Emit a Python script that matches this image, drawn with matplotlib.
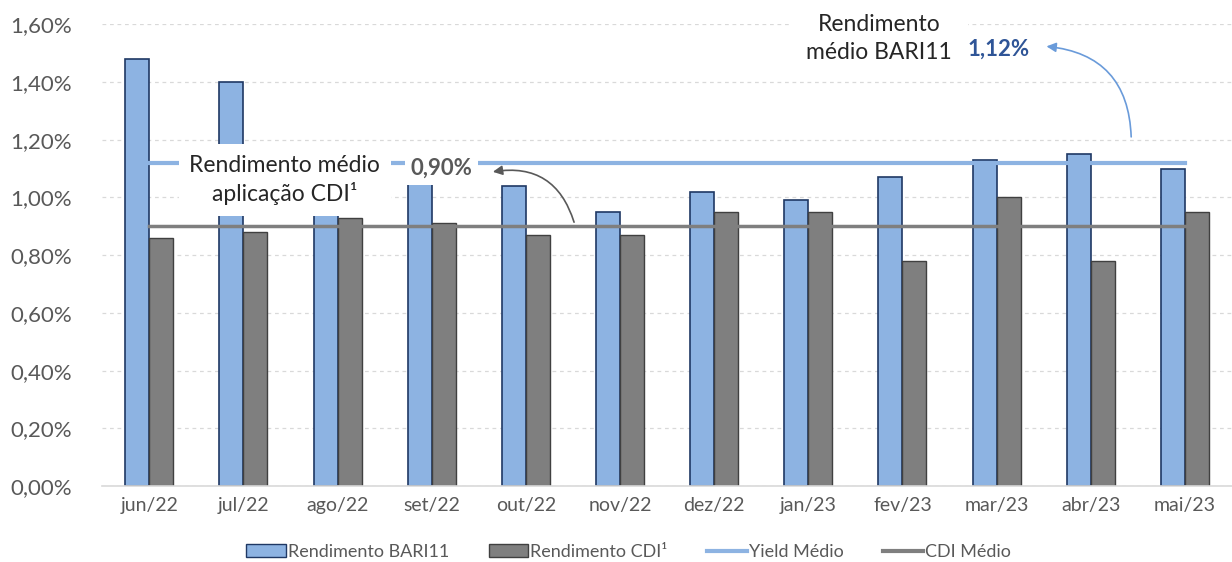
import matplotlib.pyplot as plt
import numpy as np
from matplotlib.patches import Patch
from matplotlib.lines import Line2D
from matplotlib.ticker import FuncFormatter

plt.rcParams['font.family'] = ['Lato', 'DejaVu Sans']

# dados (em %)
meses = ['jun/22', 'jul/22', 'ago/22', 'set/22', 'out/22', 'nov/22',
         'dez/22', 'jan/23', 'fev/23', 'mar/23', 'abr/23', 'mai/23']
rend_bari = [1.48, 1.40, 1.05, 1.09, 1.04, 0.95, 1.02, 0.99, 1.07, 1.13, 1.15, 1.10]
rend_cdi = [0.86, 0.88, 0.93, 0.91, 0.87, 0.87, 0.95, 0.95, 0.78, 1.00, 0.78, 0.95]
yield_medio = 1.12
cdi_medio = 0.90

azul = '#8DB3E2'
azul_borda = '#1F3864'
cinza = '#7F7F7F'
cinza_borda = '#404040'
texto = '#595959'

x = np.arange(len(meses))
w = 0.255

fig = plt.figure(figsize=(12.32, 5.62), dpi=100)
ax = fig.add_axes([0.083, 0.135, 0.917, 0.822])

ax.bar(x - w/2, rend_bari, w, color=azul, edgecolor=azul_borda, linewidth=1.2, zorder=2)
ax.bar(x + w/2, rend_cdi, w, color=cinza, edgecolor=cinza_borda, linewidth=1.0, zorder=2)
ax.plot(x, [yield_medio]*len(x), color=azul, lw=3, zorder=3)
ax.plot(x, [cdi_medio]*len(x), color=cinza, lw=2.5, zorder=3)

ax.set_xlim(-0.5, 11.5)
ax.set_ylim(0, 1.6)
ax.set_yticks(np.arange(0, 1.61, 0.2))
ax.yaxis.set_major_formatter(FuncFormatter(lambda v, p: f'{v:.2f}%'.replace('.', ',')))
ax.set_xticks(x)
ax.set_xticklabels(meses)
ax.tick_params(axis='both', length=0, colors=texto)
ax.tick_params(axis='x', labelsize=14, pad=8)
ax.tick_params(axis='y', labelsize=16, pad=22)
ax.grid(axis='y', color='#D9D9D9', linestyle=(0, (3, 3)), lw=0.9, zorder=0)
for s in ['top', 'right', 'left']:
    ax.spines[s].set_visible(False)
ax.spines['bottom'].set_color('#D9D9D9')
ax.spines['bottom'].set_linewidth(1.2)

# anotações
ax.text(1.44, 1.06, 'Rendimento médio\naplicação CDI¹', ha='center', va='center',
        fontsize=16.5, color='#262626', linespacing=1.35, zorder=5,
        bbox=dict(facecolor='white', edgecolor='none', boxstyle='square,pad=0.45'))
ax.text(3.10, 1.10, '0,90%', ha='center', va='center', fontsize=16, fontweight='bold',
        color=texto, zorder=5,
        bbox=dict(facecolor='white', edgecolor='none', boxstyle='square,pad=0.25'))
ax.annotate('', xy=(3.62, 1.087), xytext=(4.52, 0.905),
            arrowprops=dict(arrowstyle='-|>', color='#595959', lw=1.2,
                            connectionstyle='arc3,rad=0.45', mutation_scale=14), zorder=5)

ax.text(7.75, 1.55, 'Rendimento\nmédio BARI11', ha='center', va='center',
        fontsize=16.5, color='#262626', linespacing=1.45, zorder=5,
        bbox=dict(facecolor='white', edgecolor='none', boxstyle='square,pad=0.7'))
ax.text(9.02, 1.513, '1,12%', ha='center', va='center', fontsize=16, fontweight='bold',
        color='#2F5597', zorder=5)
ax.annotate('', xy=(9.5, 1.524), xytext=(10.43, 1.20),
            arrowprops=dict(arrowstyle='-|>', color='#6A9BDA', lw=1.2,
                            connectionstyle='arc3,rad=0.45', mutation_scale=14), zorder=5)

handles = [Patch(facecolor=azul, edgecolor=azul_borda, label='Rendimento BARI11'),
           Patch(facecolor=cinza, edgecolor=cinza_borda, label='Rendimento CDI¹'),
           Line2D([], [], color=azul, lw=3, label='Yield Médio'),
           Line2D([], [], color=cinza, lw=3, label='CDI Médio')]
leg = fig.legend(handles=handles, loc='center', bbox_to_anchor=(0.51, 0.018), ncol=4,
                 frameon=False, fontsize=13, handlelength=2.2, handletextpad=0.1,
                 columnspacing=2.2)
for t in leg.get_texts():
    t.set_color(texto)

fig.savefig('out.png', dpi=100)
